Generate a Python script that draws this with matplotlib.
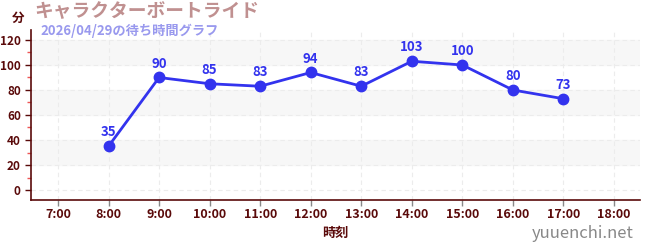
import matplotlib
matplotlib.use("Agg")
import matplotlib.pyplot as plt
from matplotlib.ticker import MultipleLocator

plt.rcParams["font.family"] = ["Noto Sans CJK JP", "DejaVu Sans"]

hours = [8, 9, 10, 11, 12, 13, 14, 15, 16, 17]
waits = [35, 90, 85, 83, 94, 83, 103, 100, 80, 73]
tick_hours = list(range(7, 19))
tick_labels = [f"{h}:00" for h in tick_hours]

title = "キャラクターボートライド"
subtitle = "2026/04/29の待ち時間グラフ"

dark = "#5a0a0a"
blue = "#3333ee"

fig = plt.figure(figsize=(6.5, 2.5), dpi=100)
ax = fig.add_axes([0.048, 0.2, 0.937, 0.68])

# alternating bands
for lo in (20, 60, 100):
    ax.axhspan(lo, lo + 20, color="#f7f7f7", zorder=0)

ax.plot(hours, waits, color=blue, lw=2, marker="o", ms=7.5, zorder=3)
for h, w in zip(hours, waits):
    ax.annotate(str(w), (h, w), xytext=(0, 5), textcoords="offset points",
                ha="center", va="bottom", color=blue, fontsize=9.5,
                fontweight="bold")

ax.set_xlim(6.47, 18.52)
ax.set_ylim(-8, 128)
ax.set_xticks(tick_hours)
ax.set_xticklabels(tick_labels)
ax.yaxis.set_major_locator(MultipleLocator(20))
ax.yaxis.set_minor_locator(MultipleLocator(10))
ax.set_yticks(range(0, 121, 20))

ax.grid(True, which="major", color="#ececec", ls=(0, (4, 3)), lw=0.8)
ax.set_axisbelow(True)

for s in ("top", "right"):
    ax.spines[s].set_visible(False)
for s in ("left", "bottom"):
    ax.spines[s].set_color(dark)
    ax.spines[s].set_linewidth(1.2)

ax.tick_params(axis="x", which="major", colors="#888888", labelcolor=dark,
               labelsize=9, length=4, width=1, pad=2)
ax.tick_params(axis="y", which="major", colors=dark, labelsize=8.5,
               length=4, width=1)
ax.tick_params(axis="y", which="minor", colors="#ee5555", length=3, width=1)
for lbl in ax.get_xticklabels() + ax.get_yticklabels():
    lbl.set_fontweight("bold")

ax.set_xlabel("時刻", color=dark, fontsize=9.5, fontweight="bold", labelpad=3)

fig.text(0.028, 0.925, "分", color=dark, fontsize=9, fontweight="bold",
         ha="center", va="center")
fig.text(0.053, 0.953, title, color="#c09090", fontsize=13.5,
         fontweight="bold", va="center")
fig.text(0.062, 0.875, subtitle, color="#9999ee", fontsize=9.5,
         fontweight="bold", va="center")
fig.text(0.975, 0.065, "yuuenchi.net", color="#888888", fontsize=12,
         ha="right", va="center")

fig.savefig("out.png", dpi=100)
